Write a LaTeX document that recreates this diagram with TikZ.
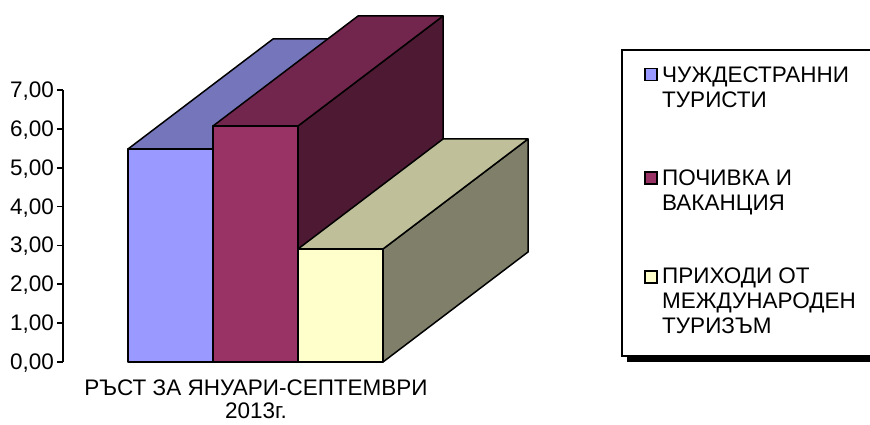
\documentclass[tikz,border=0pt]{standalone}
\usepackage{fontspec}
\setmainfont{Liberation Sans}
\definecolor{blueF}{HTML}{9999FF}
\definecolor{blueT}{HTML}{7575BC}
\definecolor{blueS}{HTML}{4D4D80}
\definecolor{marF}{HTML}{993366}
\definecolor{marT}{HTML}{73264D}
\definecolor{marS}{HTML}{4D1933}
\definecolor{yelF}{HTML}{FFFFCC}
\definecolor{yelT}{HTML}{BFBF99}
\definecolor{yelS}{HTML}{80806A}
\tikzset{
  face/.style={draw=black, line width=1.5pt, line join=round},
  lbl/.style={inner sep=0pt, font=\fontsize{22.5}{25}\selectfont},
  legtext/.style={lbl, align=left, anchor=base west},
  marker/.style={draw=black, line width=1.5pt, minimum width=12pt, minimum height=12pt, inner sep=0pt, anchor=north west},
}
\begin{document}
\begin{tikzpicture}[x=1pt,y=-1pt]
\useasboundingbox (0,0) rectangle (870,425);
\clip (0,0) rectangle (870,425);
% axis
\draw[line width=1.8pt] (63,90) -- (63,362);
\foreach \v [count=\i from 0] in {0,1,2,3,4,5,6,7} {
  \pgfmathsetmacro{\yy}{362-\v*38.857}
  \draw[line width=1.8pt] (57,\yy) -- (63,\yy);
  \node[lbl, anchor=base east] (t\i) at (54,\yy+7.5) {\v,00};
}
% blue bar
\filldraw[face, fill=blueS] (213,149) -- (358,39) -- (358,252) -- (213,362) -- cycle;
\filldraw[face, fill=blueT] (128,149) -- (213,149) -- (358,39) -- (273,39) -- cycle;
\filldraw[face, fill=blueF] (128,149) rectangle (213,362);
% maroon bar
\filldraw[face, fill=marS] (298,126) -- (443,16) -- (443,252) -- (298,362) -- cycle;
\filldraw[face, fill=marT] (213,126) -- (298,126) -- (443,16) -- (358,16) -- cycle;
\filldraw[face, fill=marF] (213,126) rectangle (298,362);
% yellow bar
\filldraw[face, fill=yelS] (383,249) -- (528,139) -- (528,252) -- (383,362) -- cycle;
\filldraw[face, fill=yelT] (298,249) -- (383,249) -- (528,139) -- (443,139) -- cycle;
\filldraw[face, fill=yelF] (298,249) rectangle (383,362);
% category labels
\node[lbl, anchor=base] (cat1) at (256,395) {РЪСТ ЗА ЯНУАРИ-СЕПТЕМВРИ};
\node[lbl, anchor=base] (cat2) at (256,418) {2013г.};
% legend
\fill[black] (627,55) rectangle (910,362);
\filldraw[draw=black, line width=2pt, fill=white] (622,50) rectangle (905,356);
\node[marker, fill=blueF] (m1) at (644,68) {};
\node[legtext] (l1) at (662,108) {ЧУЖДЕСТРАННИ\\ТУРИСТИ};
\node[marker, fill=marF] (m2) at (644,171) {};
\node[legtext] (l2) at (662,210) {ПОЧИВКА И\\ВАКАНЦИЯ};
\node[marker, fill=yelF] (m3) at (644,270) {};
\node[legtext] (l3) at (662,333) {ПРИХОДИ ОТ\\МЕЖДУНАРОДЕН\\ТУРИЗЪМ};
\end{tikzpicture}
\end{document}
